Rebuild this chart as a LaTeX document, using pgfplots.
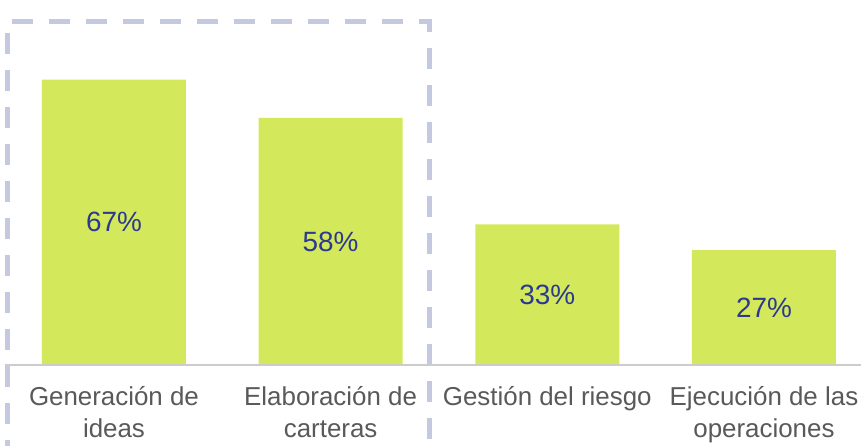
\documentclass[border=0pt]{standalone}
\usepackage{fontspec}
\setmainfont{Liberation Sans}
\usepackage{pgfplots}
\pgfplotsset{compat=1.18}
\definecolor{cBar}{HTML}{D4E85B}
\definecolor{cVal}{HTML}{2B3990}
\definecolor{cLab}{HTML}{595959}
\definecolor{cDash}{HTML}{C5C9E0}
\definecolor{cBase}{HTML}{CCCCCC}

\begin{document}
\begin{tikzpicture}
\begin{axis}[
  width=861bp, height=365bp, scale only axis,
  xmin=-0.526, xmax=3.448, ymin=0, ymax=85.7,
  axis line style={draw=none},
  ytick=\empty,
  xtick=data, major tick length=0pt,
  xticklabels={{Generación de\\ideas},{Elaboración de\\carteras},{Gestión del riesgo},{Ejecución de las\\operaciones}},
  xticklabel style={font=\fontsize{26}{32}\selectfont, text=cLab, align=center, yshift=-18bp},
  clip=false,
  /pgf/number format/assume math mode=true,
]
\draw[cDash, line width=5bp, dash pattern=on 21bp off 16bp]
  (axis cs:-0.491,-40) -- (axis cs:-0.491,80.6) -- (axis cs:1.458,80.6) -- (axis cs:1.458,-40);
\addplot[ybar, bar width=144bp, fill=cBar, draw=none,
  nodes near coords={\pgfmathprintnumber{\pgfplotspointmeta}\%},
  visualization depends on={y \as \rawy},
  every node near coord/.append style={anchor=center, text=cVal,
    font=\fontsize{28}{32}\selectfont,
    shift={(axis direction cs:0,-\rawy/2)}},
] coordinates {(0,67)(1,58)(2,33)(3,27)};
\draw[cBase, line width=1.5bp] (axis cs:-0.503,0) -- (axis cs:3.448,0);
\end{axis}
\pgfresetboundingbox
\path (0,-81bp) rectangle (861bp,365bp);
\end{tikzpicture}
\end{document}
